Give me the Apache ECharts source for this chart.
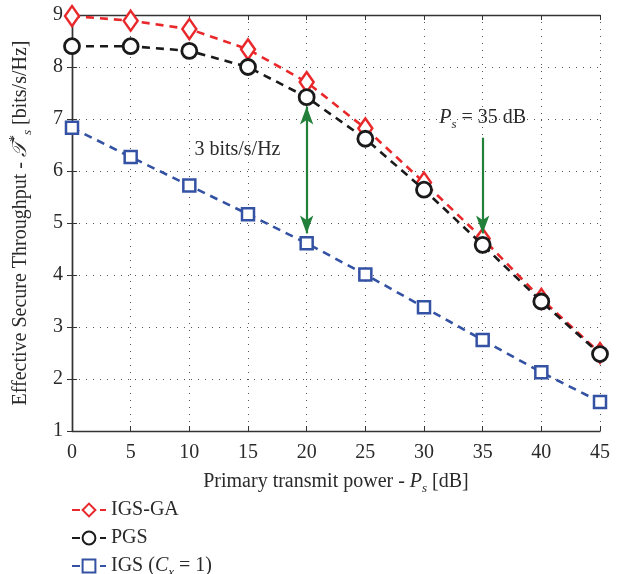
<!DOCTYPE html>
<html><head><meta charset="utf-8">
<script src="https://cdn.jsdelivr.net/npm/echarts@6/dist/echarts.min.js"></script>
<style>html,body{margin:0;padding:0;background:#fff}#c{width:624px;height:574px}</style>
</head><body><div id="c"></div>
<script>
const powers = [0, 5, 10, 15, 20, 25, 30, 35, 40, 45];
const igsGA = [8.98, 8.89, 8.73, 8.34, 7.71, 6.82, 5.78, 4.70, 3.54, 2.50];
const pgs = [8.40, 8.40, 8.31, 8.00, 7.42, 6.62, 5.64, 4.58, 3.49, 2.48];
const igs = [6.83, 6.27, 5.72, 5.17, 4.61, 4.01, 3.38, 2.75, 2.13, 1.56];
const xTicks = [0, 5, 10, 15, 20, 25, 30, 35, 40, 45];
const yTicks = [1, 2, 3, 4, 5, 6, 7, 8, 9];
const seriesNames = ['IGS-GA', 'PGS', 'IGS (Cx = 1)'];

const FONT = '"Liberation Serif", "DejaVu Serif", serif';
const FS = 20;
const pair = (xs, ys) => xs.map((x, i) => [x, ys[i]]);
const C = '#2a2a2a';
const italicRich = {
  i: {fontStyle: 'italic', fontSize: FS, fontFamily: FONT, color: C, lineHeight: 26, verticalAlign: 'middle'},
  t: {fontSize: FS, fontFamily: FONT, color: C, lineHeight: 26},
  sub: {fontStyle: 'italic', fontSize: 13, fontFamily: FONT, color: C, lineHeight: 26, verticalAlign: 'bottom'},
  sup: {fontSize: 14, fontFamily: FONT, color: C, lineHeight: 26, verticalAlign: 'top'}
};

const chart = echarts.init(document.getElementById('c'), null, {renderer: 'canvas'});
const axisLine = {show: true, lineStyle: {color: '#333', width: 1.4}};
const tick = {show: true, inside: true, length: 5, lineStyle: {color: '#333', width: 1}};
const split = {show: true, lineStyle: {color: '#555', type: [1, 6], width: 1}};

const legendTops = [495, 523, 551];

chart.setOption({
  animation: false,
  textStyle: {fontFamily: FONT},
  grid: {left: 71.5, right: 24, top: 15, bottom: 143},
  xAxis: [{
    type: 'value', min: 0, max: 45, interval: 5, position: 'bottom',
    axisLine, axisTick: tick, splitLine: split,
    axisLabel: {color: C, fontSize: FS, fontFamily: FONT, margin: 12},
    name: '{t|Primary transmit power - }{i|P}{sub|s}{t| [dB]}', nameLocation: 'middle', nameGap: 38,
    nameTextStyle: {color: C, fontSize: FS, fontFamily: FONT, rich: italicRich}
  }, {
    type: 'value', min: 0, max: 45, interval: 5, position: 'top',
    axisLine, axisTick: tick, splitLine: {show: false}, axisLabel: {show: false}
  }],
  yAxis: [{
    type: 'value', min: 1, max: 9, interval: 1, position: 'left',
    axisLine, axisTick: tick, splitLine: split,
    axisLabel: {color: C, fontSize: FS, fontFamily: FONT, margin: 9},
    name: '{t|Effective Secure Throughput - }{i|𝒯}{sup|*}{sub|s}{t| [bits/s/Hz]}', nameLocation: 'middle', nameGap: 38,
    nameTextStyle: {color: C, fontSize: FS, fontFamily: FONT, rich: italicRich}
  }, {
    type: 'value', min: 1, max: 9, interval: 1, position: 'right',
    axisLine, axisTick: tick, splitLine: {show: false}, axisLabel: {show: false}
  }],
  legend: seriesNames.map((n, k) => ({
    orient: 'vertical', left: 66, top: legendTops[k], itemWidth: 34, itemHeight: 16, itemGap: 6,
    textStyle: {color: C, fontSize: FS, fontFamily: FONT, rich: italicRich},
    formatter: s => s === 'IGS (Cx = 1)' ? '{t|IGS (}{i|C}{sub|x}{t| = 1)}' : '{t|' + s + '}',
    data: [n]
  })),
  series: [
    {
      name: seriesNames[0], type: 'line', data: pair(powers, igsGA), symbol: 'diamond', symbolSize: [14, 20],
      lineStyle: {color: '#e8282b', width: 2.6, type: [8, 6]},
      itemStyle: {color: '#fff', borderColor: '#e8282b', borderWidth: 2.5}, z: 3
    },
    {
      name: seriesNames[1], type: 'line', data: pair(powers, pgs), symbol: 'circle', symbolSize: 15,
      lineStyle: {color: '#1a1a1a', width: 2.6, type: [8, 6]},
      itemStyle: {color: '#fff', borderColor: '#1a1a1a', borderWidth: 2.8}, z: 4
    },
    {
      name: seriesNames[2], type: 'line', data: pair(powers, igs), symbol: 'rect', symbolSize: 12,
      lineStyle: {color: '#3452a4', width: 2.6, type: [8, 6]},
      itemStyle: {color: '#fff', borderColor: '#3452a4', borderWidth: 2.5}, z: 3
    },
    {
      name: 'annot', type: 'line', data: [], silent: true, z: 5,
      markLine: {
        silent: true, animation: false,
        lineStyle: {color: '#23803a', width: 2.2, type: 'solid'},
        label: {show: false},
        data: [
          [{coord: [20, 7.24], symbol: 'arrow', symbolSize: [10, 18]}, {coord: [20, 4.80], symbol: 'arrow', symbolSize: [10, 18]}],
          [{coord: [35, 6.64], symbol: 'none'}, {coord: [35, 4.80], symbol: 'arrow', symbolSize: [10, 18]}]
        ]
      },
      markPoint: {
        silent: true, symbol: 'circle', symbolSize: 1, itemStyle: {color: 'transparent'},
        data: [
          {coord: [14.1, 6.40], label: {show: true, position: 'inside', formatter: '{t|3 bits/s/Hz}', rich: italicRich}},
          {coord: [35.0, 7.02], label: {show: true, position: 'inside', formatter: '{i|P}{sub|s}{t| = 35 dB}', rich: italicRich}}
        ]
      }
    }
  ]
});
</script></body></html>
